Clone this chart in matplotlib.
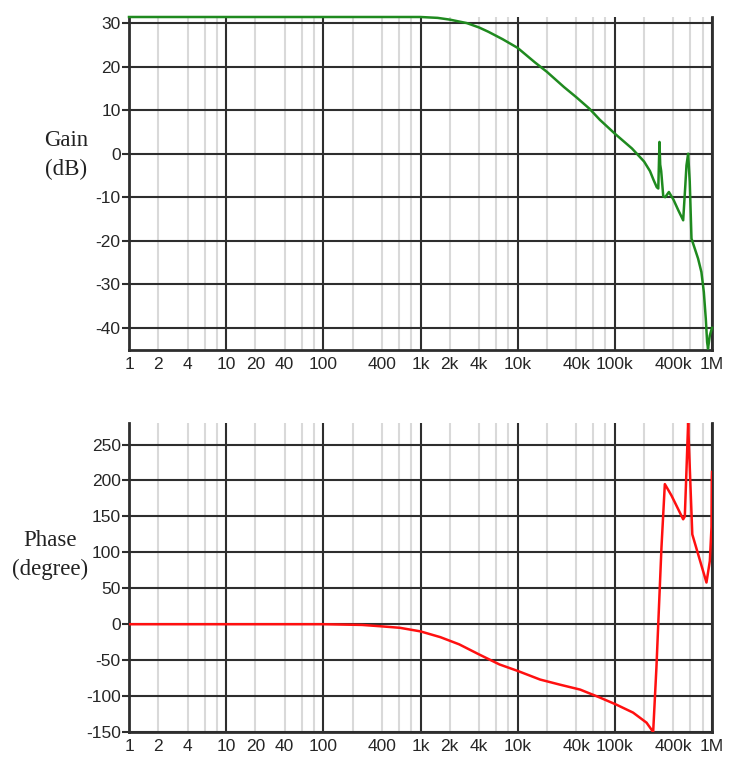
import numpy as np
import matplotlib
matplotlib.use("Agg")
import matplotlib.pyplot as plt
from matplotlib.ticker import FixedLocator, FuncFormatter

# Frequency-response data (Hz)
gain_freq = [1, 10, 100, 1e3, 1.5e3, 2e3, 3e3, 4e3, 5e3, 7e3, 1e4, 1.5e4, 2e4, 3e4,
             4e4, 5.5e4, 7e4, 1e5, 1.5e5, 2e5, 2.3e5, 2.5e5, 2.7e5, 2.8e5, 2.88e5,
             2.93e5, 3.0e5, 3.15e5, 3.3e5, 3.6e5, 4.0e5, 4.5e5, 5.05e5, 5.3e5,
             5.46e5, 5.68e5, 5.9e5, 6.15e5, 7.19e5, 7.78e5, 8.24e5, 8.63e5,
             8.91e5, 9.1e5, 9.49e5, 1e6]
gain_db = [31.4, 31.4, 31.4, 31.4, 31.2, 30.8, 30.0, 29.0, 28.0, 26.3, 24.3, 21.0,
           18.8, 15.3, 13.0, 10.3, 7.8, 4.6, 1.2, -1.8, -4.0, -6.0, -7.7, -8.0,
           2.7, -2.5, -4.0, -9.8, -10.0, -8.8, -10.5, -13.0, -15.3, -7.7, -2.7,
           0.0, -6.4, -19.5, -24.1, -27.2, -31.8, -37.9, -43.3, -44.8, -41.8, -40.0]

phase_freq = [1, 10, 100, 250, 400, 614, 1e3, 1.6e3, 2e3, 2.5e3, 4e3, 6.5e3, 1e4,
              1.7e4, 2.7e4, 4.4e4, 7e4, 1.04e5, 1.54e5, 2.12e5, 2.48e5, 2.68e5,
              3.02e5, 3.27e5, 3.83e5, 5.05e5, 5.25e5, 5.46e5, 5.68e5, 5.8e5,
              6.27e5, 8.77e5, 9.5e5, 9.88e5, 9.95e5, 1e6]
phase_deg = [0, 0, 0, -1, -3, -5, -10, -18, -23, -28, -42, -56, -65, -77, -84, -91,
             -102, -112, -123, -137, -150, -60, 107, 195, 179, 146, 150, 214, 280,
             246, 125, 58, 88, 135, 200, 212]

tick_vals = [1, 2, 4, 10, 20, 40, 100, 400, 1e3, 2e3, 4e3, 1e4, 4e4, 1e5, 4e5, 1e6]
tick_text = ["1", "2", "4", "10", "20", "40", "100", "400", "1k", "2k", "4k",
             "10k", "40k", "100k", "400k", "1M"]

gain_yticks = [-40, -30, -20, -10, 0, 10, 20, 30]
phase_yticks = [-150, -100, -50, 0, 50, 100, 150, 200, 250]

TICK_FONT = "Liberation Sans"
LABEL_FONT = "Liberation Serif"
DARK = "#2e2e2e"
LIGHT = "#d9d9d9"

fig = plt.figure(figsize=(7.33, 7.65), dpi=100)
W, H = 733, 765


def axes_px(left, top, right, bottom):
    return fig.add_axes([left / W, 1 - bottom / H, (right - left) / W, (bottom - top) / H])


ax_gain = axes_px(129, 17, 712, 350)
ax_phase = axes_px(129, 423, 712, 732)

label_map = {v: t for v, t in zip(tick_vals, tick_text)}


def fmt(v, pos):
    for key, txt in label_map.items():
        if abs(v - key) / key < 1e-6:
            return txt
    return ""


decades = [10.0 ** k for k in range(0, 7)]
minors = [m * 10.0 ** k for k in range(0, 6) for m in (2, 4, 6, 8)]


def style(ax, yticks, ylim):
    ax.set_xscale("log")
    ax.set_xlim(1, 1e6)
    ax.set_ylim(*ylim)
    ax.xaxis.set_major_locator(FixedLocator(decades))
    ax.xaxis.set_minor_locator(FixedLocator(minors))
    ax.xaxis.set_major_formatter(FuncFormatter(fmt))
    ax.xaxis.set_minor_formatter(FuncFormatter(fmt))
    ax.set_yticks(yticks)
    ax.set_yticklabels([str(v) for v in yticks])
    ax.grid(True, which="major", color=DARK, linewidth=1.5)
    ax.grid(True, which="minor", axis="x", color=LIGHT, linewidth=1.5)
    ax.set_axisbelow(True)
    ax.tick_params(axis="x", which="both", length=0, pad=5, labelsize=12.5,
                   colors="#262626")
    ax.tick_params(axis="y", which="major", length=5, width=1.5, color=DARK,
                   pad=1, labelsize=12.5, labelcolor="#262626")
    for lab in ax.get_xticklabels(which="both") + ax.get_yticklabels():
        lab.set_fontfamily(TICK_FONT)
    ax.spines["top"].set_visible(False)
    for side in ("left", "bottom", "right"):
        ax.spines[side].set_color(DARK)
        ax.spines[side].set_linewidth(2)


ax_gain.plot(gain_freq, gain_db, color="#1f8a1f", linewidth=1.8, zorder=3, clip_on=False)
style(ax_gain, gain_yticks, (-45.1, 31.4))

ax_phase.plot(phase_freq, phase_deg, color="#ff1010", linewidth=1.8, zorder=3)
style(ax_phase, phase_yticks, (-150, 280))

fig.text(66 / W, 1 - 155 / H, "Gain\n(dB)", fontsize=16.5,
         family=LABEL_FONT, ha="center", va="center", linespacing=1.5, color="#222222")
fig.text(50 / W, 1 - 555 / H, "Phase\n(degree)", fontsize=16.5,
         family=LABEL_FONT, ha="center", va="center", linespacing=1.5, color="#222222")

fig.savefig("out.png", dpi=100, facecolor="white")
